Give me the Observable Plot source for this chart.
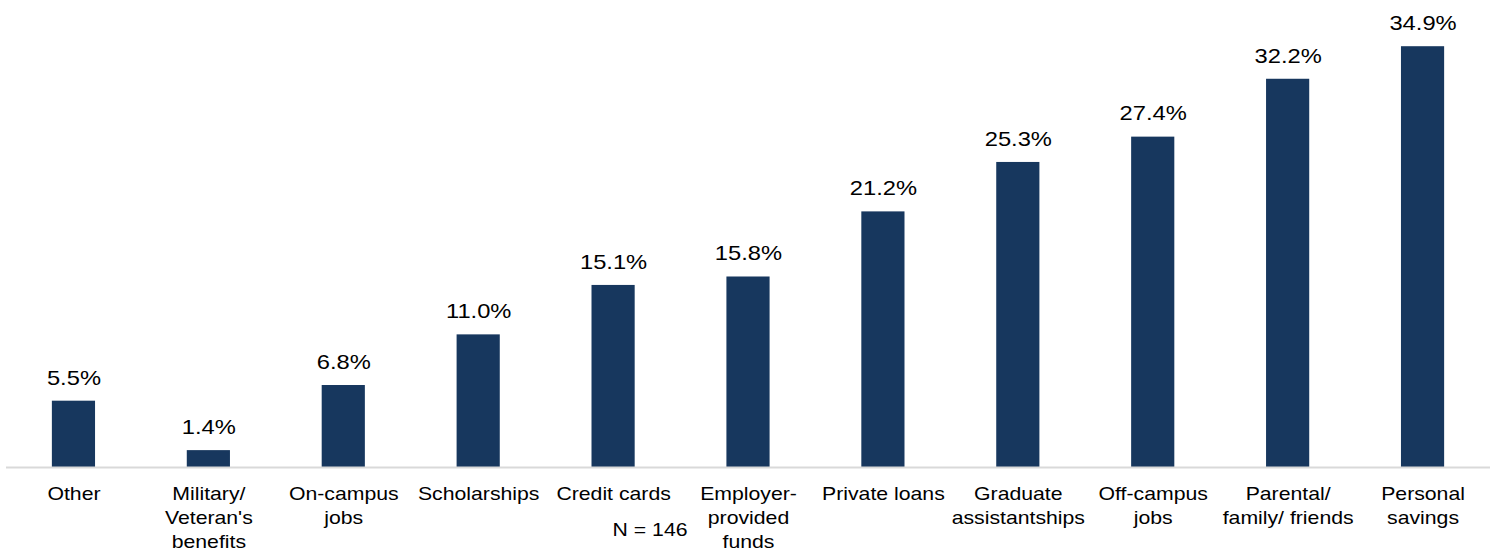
<!DOCTYPE html>
<html>
<head>
<meta charset="utf-8">
<script src="https://cdn.jsdelivr.net/npm/d3@7"></script>
<script src="https://cdn.jsdelivr.net/npm/@observablehq/plot@0.6"></script>
<style>
  html, body { margin: 0; padding: 0; background: #fff; }
  #chart svg { display: block; }
</style>
</head>
<body>
<div id="chart"></div>
<script>
const categories = [
  "Other",
  "Military/\nVeteran's\nbenefits",
  "On-campus\njobs",
  "Scholarships",
  "Credit cards",
  "Employer-\nprovided\nfunds",
  "Private loans",
  "Graduate\nassistantships",
  "Off-campus\njobs",
  "Parental/\nfamily/ friends",
  "Personal\nsavings"
];
const values = [5.5, 1.4, 6.8, 11.0, 15.1, 15.8, 21.2, 25.3, 27.4, 32.2, 34.9];
const note = "N = 146";

const data = categories.map((c, i) => ({category: c, value: values[i]}));
const font = "'Liberation Sans', Arial, sans-serif";

const chart = Plot.plot({
  width: 1494,
  height: 552,
  marginLeft: 6,
  marginRight: 4,
  marginTop: 45,
  marginBottom: 85,
  style: {fontFamily: font, background: "#fff", color: "#000"},
  x: {domain: categories, paddingInner: 0.68, paddingOuter: 0.34, round: false, axis: null},
  y: {domain: [0, 35], axis: null},
  marks: [
    Plot.barY(data, {x: "category", y: "value", fill: "#17375E"}),
    Plot.ruleY([0], {stroke: "#d9d9d9", strokeWidth: 2}),
    Plot.text(data, {
      x: "category", y: "value",
      text: d => d.value.toFixed(1) + "%",
      fontSize: 21, fill: "#000", dy: -23.4
    }),
    Plot.text(data, {
      x: "category", y: 0,
      text: "category",
      lineAnchor: "top", lineHeight: 1.34,
      fontSize: 18, fill: "#000", dy: 15.5
    }),
    Plot.text([note], {
      frameAnchor: "bottom-left", text: d => d,
      textAnchor: "end", lineAnchor: "bottom",
      dx: 681, dy: 68, fontSize: 18, fill: "#000"
    })
  ]
});
// horizontally stretch glyphs to match the reference's wide text rendering
const stretch = [1.13, 1.18, 1.18];
chart.querySelectorAll('g[aria-label="text"]').forEach((g, gi) => {
  const s = stretch[gi] || 1;
  g.querySelectorAll("text").forEach(t => {
    const tr = t.getAttribute("transform") || "";
    let pre = tr;
    if (t.hasAttribute("x")) {
      const xv = t.getAttribute("x");
      const x = parseFloat(xv);
      if (!isNaN(x) && /^-?[\d.]+$/.test(xv.trim())) {
        t.removeAttribute("x");
        pre = `${tr} translate(${x},0)`;
      }
    }
    t.setAttribute("transform", `${pre} scale(${s},1)`);
  });
});
document.getElementById("chart").append(chart);
</script>
</body>
</html>
